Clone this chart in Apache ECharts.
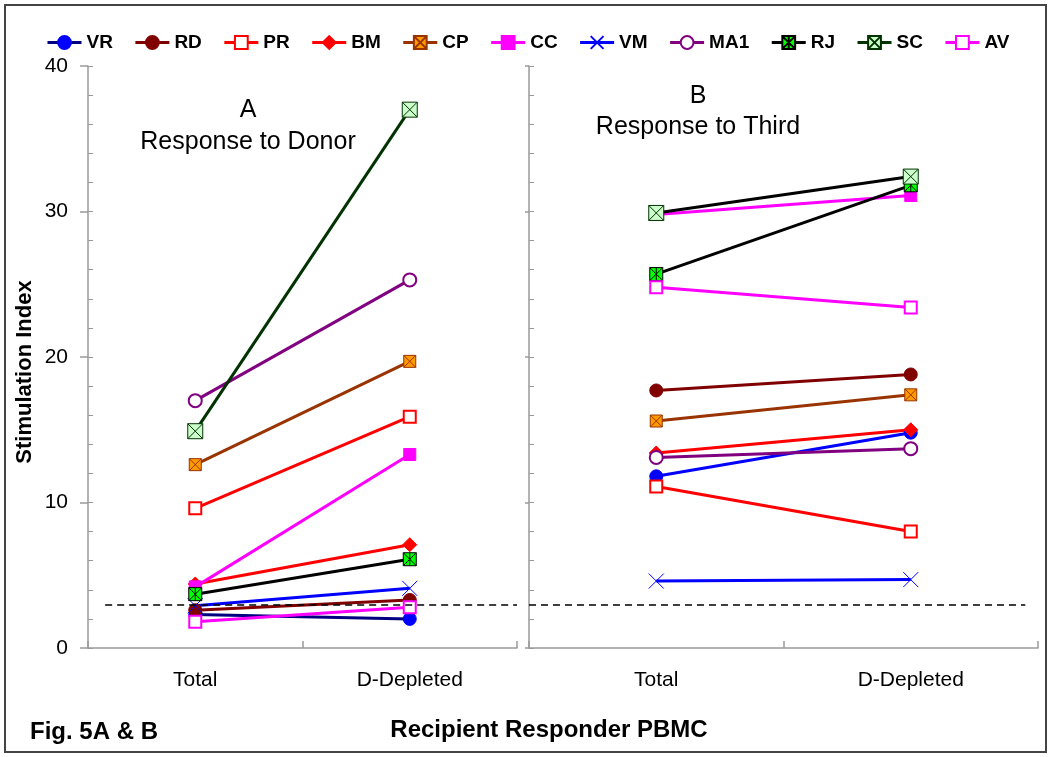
<!DOCTYPE html>
<html>
<head>
<meta charset="utf-8">
<script src="https://cdn.jsdelivr.net/npm/echarts@6/dist/echarts.min.js"></script>
<style>html,body{margin:0;padding:0;background:#fff;}#c{width:1050px;height:757px;}</style>
</head>
<body>
<div id="c"></div>
<script>
var categories = ['Total', 'D-Depleted'];
var names = ['VR','RD','PR','BM','CP','CC','VM','MA1','RJ','SC','AV'];
// Panel A: Response to Donor  [Total, D-Depleted]
var donorVR  = [2.3, 2.0];
var donorRD  = [2.6, 3.3];
var donorPR  = [9.6, 15.9];
var donorBM  = [4.4, 7.1];
var donorCP  = [12.6, 19.7];
var donorCC  = [4.2, 13.3];
var donorVM  = [2.9, 4.1];
var donorMA1 = [17.0, 25.3];
var donorRJ  = [3.7, 6.1];
var donorSC  = [14.9, 37.0];
var donorAV  = [1.8, 2.8];
// Panel B: Response to Third
var thirdVR  = [11.8, 14.8];
var thirdRD  = [17.7, 18.8];
var thirdPR  = [11.1, 8.0];
var thirdBM  = [13.4, 15.0];
var thirdCP  = [15.6, 17.4];
var thirdCC  = [29.8, 31.1];
var thirdVM  = [4.6, 4.7];
var thirdMA1 = [13.1, 13.7];
var thirdRJ  = [25.7, 31.8];
var thirdSC  = [29.9, 32.4];
var thirdAV  = [24.8, 23.4];
var yTicks = [0, 10, 20, 30, 40];
var threshold = 3;

var donor = [donorVR, donorRD, donorPR, donorBM, donorCP, donorCC, donorVM, donorMA1, donorRJ, donorSC, donorAV];
var third = [thirdVR, thirdRD, thirdPR, thirdBM, thirdCP, thirdCC, thirdVM, thirdMA1, thirdRJ, thirdSC, thirdAV];

var sqX = 'path://M0,0L20,0L20,20L0,20Z M0,0L20,20 M20,0L0,20';
var sqAst = 'path://M0,0L20,0L20,20L0,20Z M0,0L20,20 M20,0L0,20 M10,0L10,20';
var xOnly = 'path://M0,0L20,20 M20,0L0,20';

var styles = {
  VR:  {sym:'circle', size:13, fill:'#0000FF', border:'#0000FF', lineA:'#000080', lineB:'#0000FF'},
  RD:  {sym:'circle', size:13, fill:'#800000', border:'#800000', lineA:'#800000', lineB:'#800000'},
  PR:  {sym:'emptyRect', size:12, fill:'#FF0000', border:'#FF0000', lineA:'#FF0000', lineB:'#FF0000'},
  BM:  {sym:'diamond', size:14, fill:'#FF0000', border:'#FF0000', lineA:'#FF0000', lineB:'#FF0000'},
  CP:  {sym:sqX, size:12, fill:'#FF9900', border:'#993300', lineA:'#993300', lineB:'#993300'},
  CC:  {sym:'rect', size:12, fill:'#FF00FF', border:'#FF00FF', lineA:'#FF00FF', lineB:'#FF00FF'},
  VM:  {sym:xOnly, size:15, fill:'#0000FF', border:'#0000FF', lineA:'#0000FF', lineB:'#0000FF'},
  MA1: {sym:'emptyCircle', size:13, fill:'#800080', border:'#800080', lineA:'#800080', lineB:'#800080'},
  RJ:  {sym:sqAst, size:13, fill:'#00FF00', border:'#000000', lineA:'#000000', lineB:'#000000'},
  SC:  {sym:sqX, size:15, fill:'#CCFFCC', border:'#003300', lineA:'#003300', lineB:'#000000'},
  AV:  {sym:'emptyRect', size:12, fill:'#FF00FF', border:'#FF00FF', lineA:'#FF00FF', lineB:'#FF00FF'}
};

function mkSeries(name, vals, panel) {
  var s = styles[name];
  var isEmpty = (s.sym === 'emptyRect' || s.sym === 'emptyCircle');
  return {
    name: name,
    type: 'line',
    xAxisIndex: panel === 0 ? 1 : 3,
    yAxisIndex: panel === 0 ? 0 : 2,
    data: vals.map(function (v, i) { return [i, v]; }),
    symbol: s.sym,
    symbolSize: s.size,
    showAllSymbol: true,
    lineStyle: {color: panel === 0 ? s.lineA : s.lineB, width: 3},
    itemStyle: {color: s.fill, borderColor: s.border, borderWidth: isEmpty ? 1.5 : 1},
    emphasis: {disabled: true},
    animation: false,
    z: 3
  };
}

var series = [];
names.forEach(function (n, i) { series.push(mkSeries(n, donor[i], 0)); });
names.forEach(function (n, i) { series.push(mkSeries(n, third[i], 1)); });

var dashStyle = {color: '#000', width: 1.5, type: [7, 5]};
series.push({
  type: 'line', xAxisIndex: 1, yAxisIndex: 0, data: [], silent: true,
  markLine: {silent: true, symbol: 'none', label: {show: false}, lineStyle: dashStyle, animation: false,
    data: [[{coord: [-0.42, threshold]}, {coord: [1.5, threshold]}]]}
});
series.push({
  type: 'line', xAxisIndex: 3, yAxisIndex: 2, data: [], silent: true,
  markLine: {silent: true, symbol: 'none', label: {show: false}, lineStyle: dashStyle, animation: false,
    data: [[{coord: [-0.5, threshold]}, {coord: [1.45, threshold]}]]}
});

var FONT = 'Liberation Sans, Arial, sans-serif';
var axisGray = '#9a9a9a';

function catAxis(grid) {
  return {
    type: 'category', gridIndex: grid, data: categories, boundaryGap: true, position: 'bottom',
    axisLine: {onZero: false, lineStyle: {color: axisGray, width: 1.5}},
    axisTick: {alignWithLabel: true, length: 5, lineStyle: {color: axisGray, width: 1.5}},
    axisLabel: {color: '#000', fontSize: 21, fontFamily: FONT, margin: 22},
    splitLine: {show: false}
  };
}
function valXAxis(grid) {
  return {
    type: 'value', gridIndex: grid, min: -0.5, max: 1.5, interval: 1, position: 'bottom',
    axisLine: {show: false, onZero: false},
    axisTick: {show: true, inside: true, length: 7, lineStyle: {color: axisGray, width: 1.5}},
    axisLabel: {show: false}, splitLine: {show: false}
  };
}
function mainY(grid, labels) {
  return {
    type: 'value', gridIndex: grid, min: yTicks[0], max: yTicks[yTicks.length - 1], interval: 10, position: 'left',
    axisLine: {show: true, onZero: false, lineStyle: {color: axisGray, width: 1.5}},
    axisTick: {show: true, length: labels ? 8 : 4, lineStyle: {color: axisGray, width: 1.5}},
    axisLabel: {show: labels, color: '#000', fontSize: 21, fontFamily: FONT, margin: 20},
    splitLine: {show: false}
  };
}
function minorY(grid) {
  return {
    type: 'value', gridIndex: grid, min: 0, max: 40, interval: 2, position: 'left', offset: 0,
    axisLine: {show: false, onZero: false},
    axisTick: {show: true, inside: true, length: 5, lineStyle: {color: axisGray, width: 1}},
    axisLabel: {show: false}, splitLine: {show: false}
  };
}

var option = {
  backgroundColor: '#fff',
  animation: false,
  grid: [
    {left: 88, top: 66, width: 429, height: 582},
    {left: 529, top: 66, width: 509, height: 582}
  ],
  legend: {
    data: names, top: 28, left: 41, itemWidth: 34, itemHeight: 16, itemGap: 21,
    lineStyle: {width: 3},
    textStyle: {color: '#000', fontSize: 19, fontWeight: 'bold', fontFamily: FONT},
    selectedMode: false
  },
  xAxis: [catAxis(0), valXAxis(0), catAxis(1), valXAxis(1)],
  yAxis: [mainY(0, true), minorY(0), mainY(1, false), minorY(1)],
  series: series,
  graphic: [
    {type: 'rect', shape: {x: 5, y: 5, width: 1041, height: 747}, style: {fill: 'none', stroke: '#444', lineWidth: 2}, silent: true, z: 0},
    {type: 'text', x: 25, y: 372, rotation: Math.PI / 2, style: {text: 'Stimulation Index', x: 0, y: 0, textAlign: 'center', textVerticalAlign: 'middle', font: 'bold 22px ' + FONT, fill: '#000'}},
    {type: 'text', style: {text: 'A', x: 248, y: 110, textAlign: 'center', textVerticalAlign: 'middle', font: '25px ' + FONT, fill: '#000'}},
    {type: 'text', style: {text: 'Response to Donor', x: 248, y: 142, textAlign: 'center', textVerticalAlign: 'middle', font: '25px ' + FONT, fill: '#000'}},
    {type: 'text', style: {text: 'B', x: 698, y: 96, textAlign: 'center', textVerticalAlign: 'middle', font: '25px ' + FONT, fill: '#000'}},
    {type: 'text', style: {text: 'Response to Third', x: 698, y: 127, textAlign: 'center', textVerticalAlign: 'middle', font: '25px ' + FONT, fill: '#000'}},
    {type: 'text', style: {text: 'Recipient Responder PBMC', x: 549, y: 730, textAlign: 'center', textVerticalAlign: 'middle', font: 'bold 24px ' + FONT, fill: '#000'}},
    {type: 'text', style: {text: 'Fig. 5A & B', x: 30, y: 732, textAlign: 'left', textVerticalAlign: 'middle', font: 'bold 24px ' + FONT, fill: '#000'}}
  ]
};

var chart = echarts.init(document.getElementById('c'), null, {renderer: 'canvas'});
chart.setOption(option);
</script>
</body>
</html>
